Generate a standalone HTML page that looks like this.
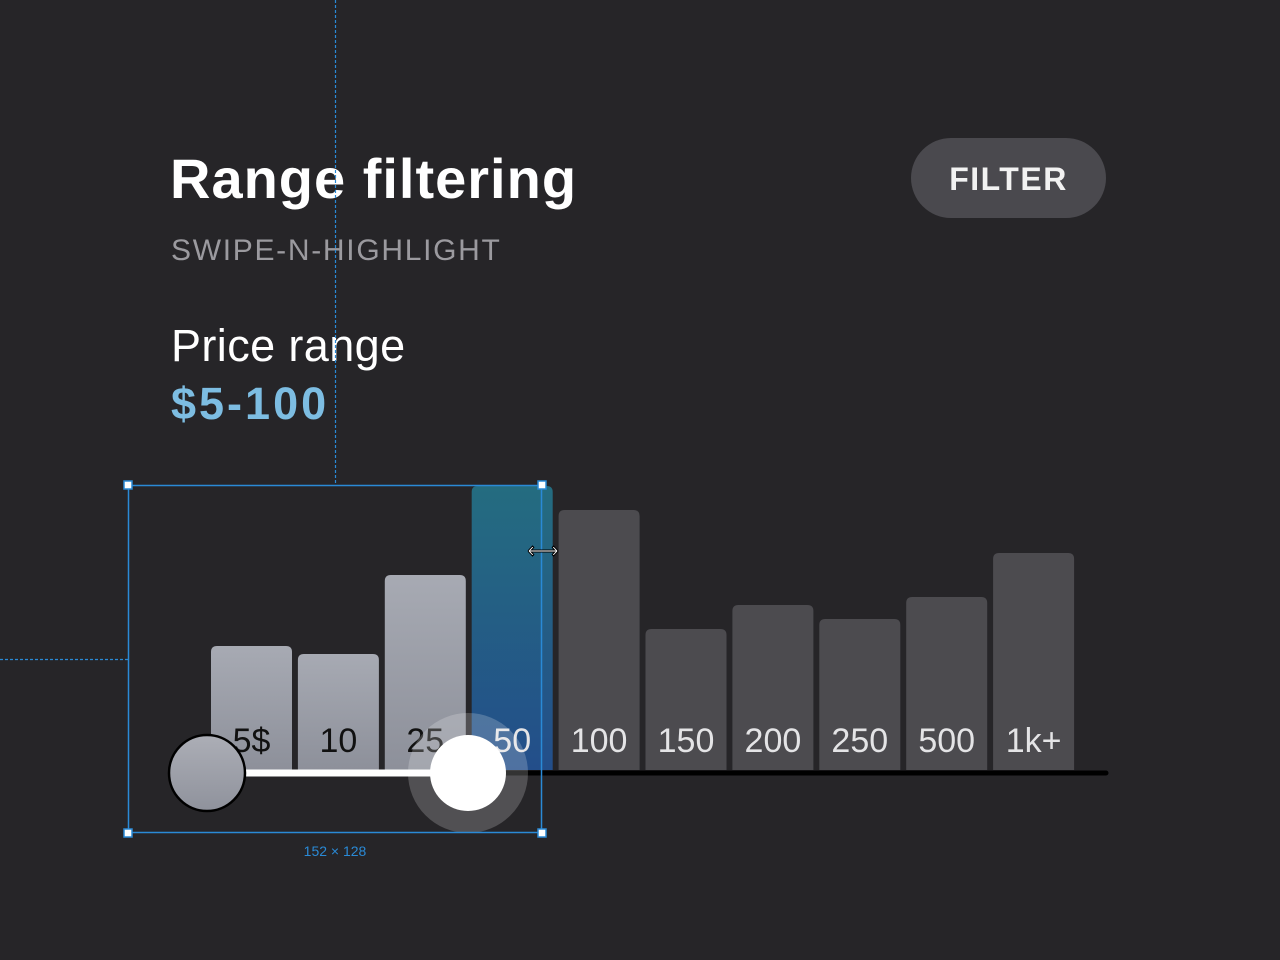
<!DOCTYPE html>
<html><head><meta charset="utf-8"><style>
body{margin:0;width:1280px;height:960px;background:#262528;overflow:hidden;position:relative;font-family:"Liberation Sans",sans-serif}
.t{position:absolute;white-space:nowrap}
</style></head><body>
<div class="t" style="left:170px;top:146px;font-size:56px;font-weight:bold;color:#fff;letter-spacing:1px">Range filtering</div>
<div class="t" style="left:171px;top:234px;font-size:30px;color:#9b9a9f;letter-spacing:1.7px">SWIPE-N-HIGHLIGHT</div>
<div class="t" style="left:171px;top:320px;font-size:45px;color:#fff;letter-spacing:0.4px">Price range</div>
<div class="t" style="left:171px;top:378px;font-size:45px;font-weight:bold;color:#7dbde2;letter-spacing:3px">$5-100</div>
<div class="t" style="left:911px;top:138px;width:195px;height:80px;border-radius:40px;background:#4a494e;color:#f2f2f2;font-size:32px;font-weight:bold;line-height:82px;text-align:center;letter-spacing:1.5px">FILTER</div>
<svg id="chart" width="1280" height="960" style="position:absolute;left:0;top:0">
<defs>
<linearGradient id="gs" x1="0" y1="0" x2="0" y2="1"><stop offset="0" stop-color="#a7aab3"/><stop offset="1" stop-color="#8d909a"/></linearGradient>
<linearGradient id="gb" x1="0" y1="0" x2="0" y2="1"><stop offset="0" stop-color="#246c80"/><stop offset="1" stop-color="#234e8a"/></linearGradient>
<linearGradient id="gt" x1="0" y1="0" x2="0" y2="1"><stop offset="0" stop-color="#acaeb6"/><stop offset="1" stop-color="#8f929c"/></linearGradient>
</defs>
<g id="bars"></g>
</svg>
<script>
const categories=["5$","10","25","50","100","150","200","250","500","1k+"];
const counts=[124,116,195,284,260,141,165,151,173,217];
const states=["sel","sel","sel","hi","off","off","off","off","off","off"];
const NS="http://www.w3.org/2000/svg";
const svg=document.getElementById('chart'),g=document.getElementById('bars');
const x=i=>211+i*86.9, bw=81, base=770;
const y=v=>base-v;
function mk(t,a,p){const e=document.createElementNS(NS,t);for(const k in a)e.setAttribute(k,a[k]);(p||g).appendChild(e);return e;}
categories.forEach((c,i)=>{
 const fill=states[i]==="sel"?"url(#gs)":states[i]==="hi"?"url(#gb)":"#4c4b4f";
 const r=mk('path',{d:`M${x(i)},${base}V${y(counts[i])+6}q0,-6 6,-6h${bw-12}q6,0 6,6V${base}Z`,fill:fill});
 
 
 const t=mk('text',{x:x(i)+bw/2,y:752,'text-anchor':'middle','font-size':34,fill:states[i]==="sel"?"#111":"#e4e4e6"});
 t.textContent=c;
 
 
});
function add(t,a,name,inter){const e=mk(t,a,svg);return e;}
add('line',{x1:500,y1:773,x2:1106,y2:773,stroke:'#000','stroke-width':5,'stroke-linecap':'round'},'slider-track','true');
add('line',{x1:207,y1:773,x2:468,y2:773,stroke:'#fff','stroke-width':7},'slider-active-range','false');
add('circle',{cx:468,cy:773,r:60,fill:'rgba(255,255,255,0.2)'},'thumb-halo','false');
add('circle',{cx:468,cy:773,r:38,fill:'#fff'},'max-thumb','true');
add('circle',{cx:207,cy:773,r:38,fill:'url(#gt)',stroke:'#000','stroke-width':2.5},'min-thumb','true');
add('line',{x1:335.5,y1:0,x2:335.5,y2:485,stroke:'#2a8ad6','stroke-width':1.2,'stroke-dasharray':'3,2'},'guide-vertical','false');
add('line',{x1:0,y1:659.5,x2:128,y2:659.5,stroke:'#2a8ad6','stroke-width':1.2,'stroke-dasharray':'3,2'},'guide-horizontal','false');
add('rect',{x:128.5,y:485.5,width:413,height:347,fill:'none',stroke:'#2a8ad6','stroke-width':1.5},'selection-box','true');
[[128,485],[542,485],[128,833],[542,833]].forEach((p,i)=>{add('rect',{x:p[0]-4,y:p[1]-4,width:8,height:8,fill:'#fff',stroke:'#2a8ad6','stroke-width':1.5},'resize-handle-'+i,'true');});
const lb=add('text',{x:335,y:856,'text-anchor':'middle','font-size':14,fill:'#2a8ad6'},'selection-size-label','false');lb.textContent='152 × 128';
const cur=add('text',{x:543,y:558,'text-anchor':'middle','font-size':22,fill:'#fff',stroke:'#000','stroke-width':1},'resize-cursor','false');cur.textContent='⟷';
</script>
</body></html>
